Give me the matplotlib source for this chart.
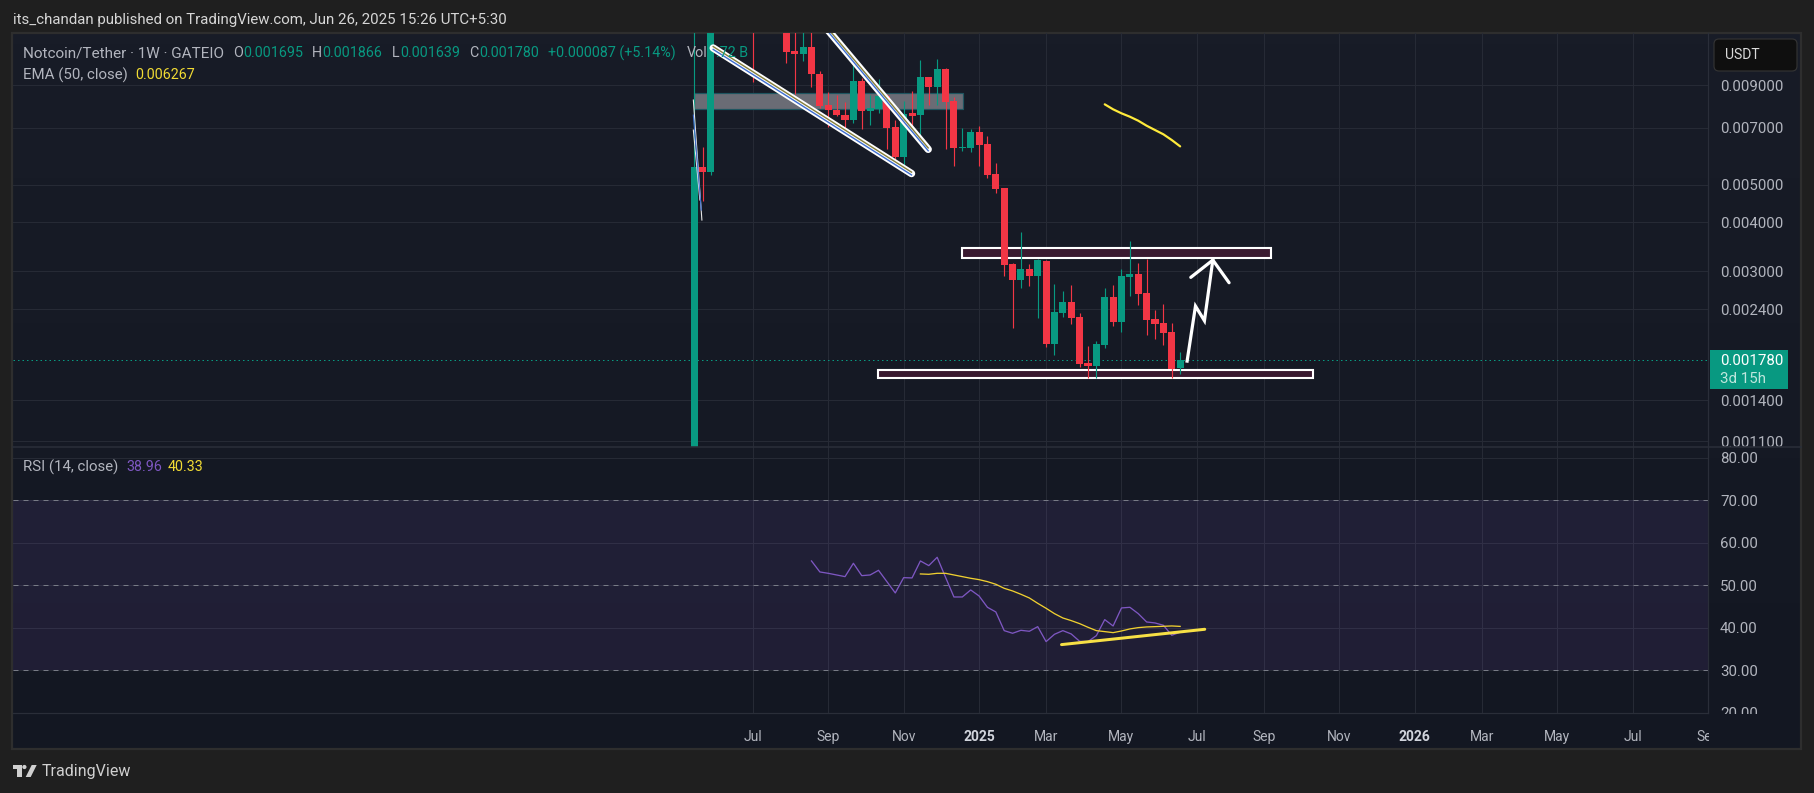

import numpy as np
import matplotlib
matplotlib.use('Agg')
import matplotlib.pyplot as plt
from matplotlib.colors import LinearSegmentedColormap
from matplotlib.patches import Rectangle, Polygon, Circle, FancyBboxPatch
from matplotlib.ticker import NullLocator
from matplotlib.transforms import Bbox, offset_copy

# ---- weekly candles, Notcoin/Tether, GATEIO (values in millionths of a USDT)
opens  = [800,5548,5387,15500,22500,18500,16500,14800,12900,14800,15800,13600,10999,10827,11262,9603,7998,7766,7540,7321,9215,7735,7827,8434,7025,5885,7630,7540,9435,8894,9891,8189,6206,6206,6821,6354,5324,4902,3130,2848,3039,2916,3186,1953,2345,2502,2290,1746,1715,1941,2577,2223,2899,2951,2638,2263,2210,2096,1695]
highs  = [15500,6243,15800,28500,25500,20500,19500,16500,15500,17500,17000,14500,14009,14009,14009,9775,8636,8484,8141,10679,9361,8501,9306,8535,7321,8189,8687,10410,9435,10492,9949,8368,6983,6942,7066,6661,5681,4902,3149,3781,3130,3224,3205,2782,2669,2766,2345,1930,1988,2717,2766,3039,3585,3149,3224,2386,2472,2210,1866]
lows   = [800,4540,5292,14800,16800,13800,13500,9177,12600,13200,13000,10268,8535,10389,8912,7843,7039,7496,6901,7207,6956,7122,7645,6182,5592,5505,6794,6635,7998,7998,6182,5592,6109,6073,5592,5210,4759,2916,2146,2717,2749,2276,1918,1830,2290,2197,1705,1598,1598,1907,2171,2096,2592,2458,2059,2011,1941,1598,1639]
closes = [5548,5387,15500,22500,18500,16500,14800,12900,14800,15800,13600,10956,10827,11262,9622,7967,7781,7540,7321,9215,7735,7858,8434,6997,5885,7585,7496,9435,8894,9891,8157,6206,6243,6821,6317,5292,4873,3112,2848,3039,2916,3205,1953,2358,2502,2276,1735,1715,1953,2577,2223,2916,2951,2623,2250,2197,2084,1685,1780]

ema_start = 49
ema_values = [8031,7798,7616,7465,7291,7079,6901,6729,6506,6267]

rsi_start = 14
rsi_values = [55.73,53.14,52.82,52.43,52.04,55.18,52.27,52.43,53.53,50.86,48.20,51.80,51.73,55.73,54.63,56.59,51.88,47.25,47.25,48.90,47.49,44.82,43.73,39.33,38.71,39.41,39.18,40.27,36.75,38.47,39.33,38.55,36.82,36.75,38.16,41.92,40.43,44.67,44.82,43.33,41.37,41.14,40.59,38.24,38.96]
rsi_ma_start = 27
rsi_ma_values = [52.67,52.59,52.82,52.82,52.43,52.04,51.65,51.33,50.86,50.24,49.29,48.67,47.88,47.02,45.76,44.59,43.33,42.31,41.69,40.98,40.12,39.33,39.10,38.86,39.25,39.73,40.04,40.20,40.27,40.35,40.43,40.33]

# ---- axis labels
price_ticks = [0.009,0.007,0.005,0.004,0.003,0.0024,0.0014,0.0011]
price_labels = ['0.009000','0.007000','0.005000','0.004000','0.003000','0.002400','0.001400','0.001100']
rsi_ticks = [80,70,60,50,40,30,20]
rsi_labels = ['80.00','70.00','60.00','50.00','40.00','30.00','20.00']
time_ticks = [7,16,25,34,42,51,60,68,77,86,94,103,112,121]
time_labels = ['Jul','Sep','Nov','2025','Mar','May','Jul','Sep','Nov','2026','Mar','May','Jul','Sep']

# ---- chart drawings (bar index, micro-USDT)
zone_grey = (0, 32.03, 7826, 8570)
zone_upper = (31.94, 68.82, 3243, 3440)
zone_lower = (21.9, 73.82, 1598, 1675)
channel_a = ([2.27, 25.94], [11196, 5339])
channel_b = ([15.0, 27.93], [13175, 6159])
thin_lines = [([-0.1, 0.92], [8238, 4058], '#e8e8e8'), ([-0.1, 0.68], [6901, 4567], '#e8e8e8'), ([-0.1, 0.85], [7540, 4305], '#3f6fd0')]
arrow_path = ([58.83, 59.83, 60.9, 61.9], [1766, 2443, 2241, 3205])
arrow_head = ([59.27, 61.9, 63.84], [2894, 3205, 2804])
rsi_support = ([43.84, 60.94], [36.04, 39.65])

GREEN, RED = '#089981', '#f23645'
GRID, TXT = '#262a35', '#b2b5be'
U = 1e-6
W, H = 1814, 793
plt.rcParams['font.family'] = ['Roboto', 'DejaVu Sans']
plt.rcParams['axes.unicode_minus'] = False
PX = 0.72

fig = plt.figure(figsize=(W/100, H/100), dpi=100, facecolor='#1f1f1f')
def pane(x0, y0, x1, y1, **kw):
    return fig.add_axes([x0/W, 1-y1/H, (x1-x0)/W, (y1-y0)/H], **kw)

# background
bg = pane(0, 0, W, H, zorder=-1); bg.set_xlim(0, W); bg.set_ylim(H, 0); bg.axis('off')
cm = LinearSegmentedColormap.from_list('g', ['#181c27', '#131722'])
bg.imshow(np.linspace(0, 1, 64)[:, None], cmap=cm, aspect='auto', extent=(12.5, 1801, 748, 33), zorder=0)
bg.set_xlim(0, W); bg.set_ylim(H, 0)
bg.add_patch(Rectangle((12, 32.5), 1789, 716, fill=False, ec='#2e2e2e', lw=2.2*PX, zorder=2))

X0, X1 = (12.5-694.3)/8.38, (1708-694.3)/8.38
idx = np.arange(len(opens))
o, h, l, c = [np.array(a)*U for a in (opens, highs, lows, closes)]

# ---- price pane
ax = pane(12.5, 33, 1708, 447)
ax.patch.set_alpha(0)
ax.set_yscale('log'); ax.set_xlim(X0, X1); ax.set_ylim(0.001064, 0.012232)
for s in ax.spines.values(): s.set_visible(False)
ax.yaxis.tick_right(); ax.set_yticks(price_ticks, price_labels)
ax.yaxis.set_minor_locator(NullLocator())
ax.set_xticks(time_ticks, ['']*len(time_ticks))
ax.tick_params(axis='both', length=0, pad=8.6, labelsize=10.8, labelcolor=TXT)
ax.grid(True, color=GRID, lw=PX*1.1, zorder=0); ax.set_axisbelow(True)

def zone(a, fc, ec, lw):
    ax.add_patch(Rectangle((a[0], a[2]*U), a[1]-a[0], (a[3]-a[2])*U, fc=fc, ec=ec, lw=lw, zorder=1.5))
zone(zone_grey, '#6a6c75', '#1f5560', PX*1.2)
zone(zone_upper, '#3a1a30', 'white', PX*2.1)
zone(zone_lower, '#3a1a30', 'white', PX*2.1)
ax.axhline(closes[-1]*U, color=GREEN, lw=PX, ls=(0, (1.5, 3)), zorder=1.8)

cols = [GREEN if cc >= oo else RED for oo, cc in zip(opens, closes)]
ax.vlines(idx, l, h, colors=cols, lw=PX*1.15, zorder=3)
bot, top = np.minimum(o, c), np.maximum(o, c)
ax.bar(idx, top-bot, bottom=bot, width=0.84, color=cols, lw=0, zorder=3.1)

# white channels with their thin inner strokes
off_up = offset_copy(ax.transData, fig=fig, y=1.4, units='dots')
off_dn = offset_copy(ax.transData, fig=fig, y=-1.4, units='dots')
for xs, ys in (channel_a, channel_b):
    ys = np.array(ys)*U
    ax.plot(xs, ys, color='white', lw=PX*7.4, solid_capstyle='round', zorder=4)
    ax.plot(xs, ys, color='#857f3c', lw=PX*1.4, transform=off_up, zorder=4.1)
    ax.plot(xs, ys, color='#3f6fd0', lw=PX*1.4, transform=off_dn, zorder=4.1)
for xs, ys, col in thin_lines:
    ax.plot(xs, np.array(ys)*U, color=col, lw=PX*1.1, zorder=4.2)
ax.plot(ema_start+np.arange(len(ema_values)), np.array(ema_values)*U, color='#ffeb3b', lw=PX*2.2, zorder=4, solid_capstyle='round')
ax.plot(arrow_path[0], np.array(arrow_path[1])*U, color='white', lw=PX*3.2, zorder=5, solid_joinstyle='miter')
ax.plot(arrow_head[0], np.array(arrow_head[1])*U, color='white', lw=PX*3.2, zorder=5, solid_capstyle='round')

# ---- RSI pane
ar = pane(12.5, 447, 1708, 713)
ar.patch.set_alpha(0)
ar.set_xlim(X0, X1); ar.set_ylim(19.95, 82.54)
for s in ar.spines.values(): s.set_visible(False)
ar.yaxis.tick_right(); ar.set_yticks(rsi_ticks, rsi_labels)
ar.set_xticks(time_ticks, time_labels)
ar.tick_params(axis='y', length=0, pad=8.6, labelsize=10.8, labelcolor=TXT)
ar.tick_params(axis='x', length=0, pad=12.0, labelsize=10.0, labelcolor=TXT)
ar.grid(True, color=GRID, lw=PX*1.1); ar.set_axisbelow(True)
ar.axhspan(30, 70, color='#7e57c2', alpha=0.12, lw=0, zorder=1)
for v in (70, 50, 30):
    ar.axhline(v, color='#787b86', lw=PX, ls=(0, (5, 5)), zorder=1.5)
ar.plot(rsi_start+np.arange(len(rsi_values)), rsi_values, color='#7e57c2', lw=PX*1.3, zorder=3)
ar.plot(rsi_ma_start+np.arange(len(rsi_ma_values)), rsi_ma_values, color='#f0d030', lw=PX*1.3, zorder=3)
ar.plot(rsi_support[0], rsi_support[1], color='#f7e045', lw=PX*3, zorder=4, solid_capstyle='round')
for t in ar.get_xticklabels():
    if t.get_text() in ('2025', '2026'):
        t.set_fontweight('bold'); t.set_color('#d1d4dc')
# labels cut by the pane edges, as in the screenshot
ar.get_xticklabels()[-1].set_clip_on(True)
ar.get_xticklabels()[-1].set_clip_box(Bbox([[1600, 0], [1709, H]]))
for t in ar.get_yticklabels():
    t.set_clip_on(True); t.set_clip_box(Bbox([[1700, H-714], [1810, H]]))

# ---- overlay: legend, panels, footer
ov = pane(0, 0, W, H, zorder=10); ov.set_xlim(0, W); ov.set_ylim(H, 0); ov.axis('off')
def T(x, y, s, col=TXT, px=14.3, **kw):
    ov.text(x, y, s, color=col, fontsize=px*PX, va='center', ha='left', **kw)
ov.plot([12.5, 1801], [447, 447], color='#2a2e39', lw=PX*1.6)
ov.plot([12.5, 1708], [713, 713], color='#2a2e39', lw=PX*1.2)
ov.plot([1708, 1708], [33, 713], color='#2a2e39', lw=PX*1.2)

T(12.6, 20, 'its_chandan published on TradingView.com, Jun 26, 2025 15:26 UTC+5:30', '#d6d6d6', 15)
T(23, 53, 'Notcoin/Tether · 1W · GATEIO', TXT, 15.2)
legend_row = [(233,'O',TXT),(243,'0.001695',GREEN),(312,'H',TXT),(322.6,'0.001866',GREEN),(392,'L',TXT),(400,'0.001639',GREEN),(469.6,'C',TXT),(479,'0.001780',GREEN),(548,'+0.000087 (+5.14%)',GREEN),(687,'Vol',TXT),(716,'.72 B',GREEN)]
for x, s, col in legend_row:
    T(x, 53, s, col)
T(23, 75, 'EMA (50, close)', TXT, 15)
T(135, 75, '0.006267', '#f2dc34')
T(23, 467, 'RSI (14, close)', TXT, 15)
T(126, 467, '38.96', '#7e57c2')
T(168, 467, '40.33', '#f2dc34')

ov.add_patch(FancyBboxPatch((1717, 42), 77, 26, boxstyle='round,pad=3,rounding_size=5', fc='#0f0f0f', ec='#333333', lw=PX*1.2))
T(1725, 55, 'USDT', '#dadada', 14)
ov.add_patch(Rectangle((1710, 350), 78, 39, fc=GREEN, ec='none'))
T(1720.5, 361, '0.001780', 'white', 15)
T(1720.5, 379, '3d 15h', '#bfe6dd', 15)

logo = '#d0d0d0'
ov.add_patch(Polygon([(12.7,765),(21.7,765),(21.7,777),(16.7,777),(16.7,769.3),(12.7,769.3)], fc=logo, ec='none'))
ov.add_patch(Circle((24.4,767), 2.1, fc=logo, ec='none'))
ov.add_patch(Polygon([(31.7,765),(36.7,765),(30.7,777),(25.7,777)], fc=logo, ec='none'))
T(41.7, 771.7, 'TradingView', logo, 16)

fig.savefig('out.png', dpi=100, facecolor=fig.get_facecolor())
